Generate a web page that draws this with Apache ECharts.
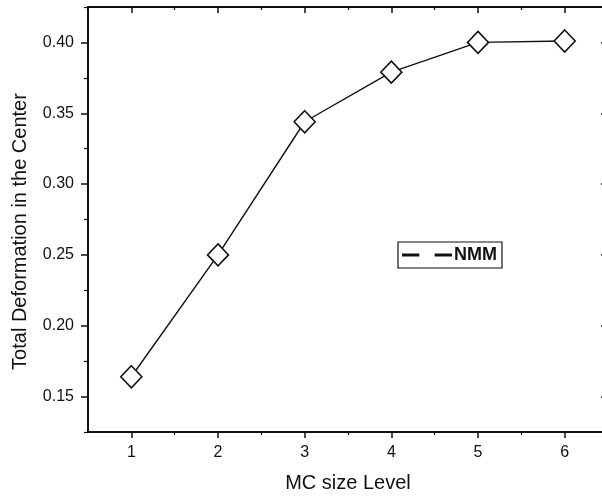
<!DOCTYPE html>
<html>
<head>
<meta charset="utf-8">
<script src="https://cdn.jsdelivr.net/npm/echarts@6/dist/echarts.min.js"></script>
<style>
  html, body { margin: 0; padding: 0; background: #fff; }
  #chart { width: 602px; height: 497px; }
</style>
</head>
<body>
<div id="chart"></div>
<script>
const levels = [1, 2, 3, 4, 5, 6]
const deformation = [0.164, 0.250, 0.344, 0.379, 0.400, 0.401]
const xMajor = [1, 2, 3, 4, 5, 6]
const xMinor = [1.5, 2.5, 3.5, 4.5, 5.5]
const yMajor = [0.15, 0.20, 0.25, 0.30, 0.35, 0.40]
const yMinor = [0.125, 0.175, 0.225, 0.275, 0.325, 0.375, 0.425]
const seriesName = 'NMM'

const font = 'Liberation Sans, Arial, sans-serif'
const black = '#111'

const xBase = {
  type: 'value',
  min: 0.5,
  max: 6.5,
  splitLine: { show: false },
}
const yBase = {
  type: 'value',
  min: 0.125,
  max: 0.425,
  splitLine: { show: false },
}

const chart = echarts.init(document.getElementById('chart'))
chart.setOption({
  animation: false,
  backgroundColor: '#fff',
  grid: { left: 88, top: 7, width: 520, height: 425, outerBoundsMode: 'none', containLabel: false },
  legend: {
    left: 398,
    top: 242,
    padding: [4, 5, 4, 4],
    borderColor: black,
    borderWidth: 1.2,
    itemWidth: 48,
    itemHeight: 2,
    icon: 'path://M1,0h15v1h-15z M33,0h15v1h-15z',
    textStyle: { fontFamily: font, fontSize: 18, color: black, fontWeight: 'bold', padding: [0, 0, 0, -2] },
    data: [{ name: seriesName, itemStyle: { color: black } }],
  },
  xAxis: [
    {
      ...xBase,
      position: 'bottom',
      name: 'MC size Level',
      nameLocation: 'middle',
      nameGap: 41,
      nameTextStyle: { fontFamily: font, fontSize: 20, color: black },
      axisLine: { lineStyle: { color: black, width: 2 } },
      axisTick: { show: true, customValues: xMajor, length: 6, lineStyle: { color: black, width: 1.5 } },
      axisLabel: { customValues: xMajor, fontFamily: font, fontSize: 16, color: black, margin: 13 },
    },
    {
      ...xBase,
      position: 'bottom',
      axisLine: { show: false },
      axisTick: { show: true, customValues: xMinor, length: 3, lineStyle: { color: black, width: 1.2 } },
      axisLabel: { show: false },
    },
    {
      ...xBase,
      position: 'top',
      axisLine: { lineStyle: { color: black, width: 2 } },
      axisTick: { show: true, inside: true, customValues: xMajor, length: 6, lineStyle: { color: black, width: 1.5 } },
      axisLabel: { show: false },
    },
    {
      ...xBase,
      position: 'top',
      axisLine: { show: false },
      axisTick: { show: true, inside: true, customValues: xMinor, length: 3, lineStyle: { color: black, width: 1.2 } },
      axisLabel: { show: false },
    },
  ],
  yAxis: [
    {
      ...yBase,
      position: 'left',
      name: 'Total Deformation in the Center',
      nameLocation: 'middle',
      nameGap: 58,
      nameTextStyle: { fontFamily: font, fontSize: 20, color: black, padding: [0, 24, 0, 0] },
      axisLine: { show: true, lineStyle: { color: black, width: 2 } },
      axisTick: { show: true, customValues: yMajor, length: 7, lineStyle: { color: black, width: 1.5 } },
      axisLabel: {
        customValues: yMajor,
        fontFamily: font,
        fontSize: 16,
        color: black,
        margin: 14,
        formatter: v => v.toFixed(2),
      },
    },
    {
      ...yBase,
      position: 'left',
      axisLine: { show: false },
      axisTick: { show: true, customValues: yMinor, length: 4, lineStyle: { color: black, width: 1.2 } },
      axisLabel: { show: false },
    },
    {
      ...yBase,
      position: 'right',
      axisLine: { show: true, lineStyle: { color: black, width: 2 } },
      axisTick: { show: true, inside: true, customValues: yMajor, length: 7, lineStyle: { color: black, width: 1.5 } },
      axisLabel: { show: false },
    },
    {
      ...yBase,
      position: 'right',
      axisLine: { show: false },
      axisTick: { show: true, inside: true, customValues: yMinor, length: 4, lineStyle: { color: black, width: 1.2 } },
      axisLabel: { show: false },
    },
  ],
  series: [
    {
      name: seriesName,
      type: 'line',
      data: levels.map((lv, i) => [lv, deformation[i]]),
      symbol: 'diamond',
      symbolSize: [21, 22],
      showAllSymbol: true,
      lineStyle: { color: black, width: 1.4 },
      itemStyle: { color: '#fff', borderColor: black, borderWidth: 1.6 },
      z: 3,
    },
  ],
})
</script>
</body>
</html>
